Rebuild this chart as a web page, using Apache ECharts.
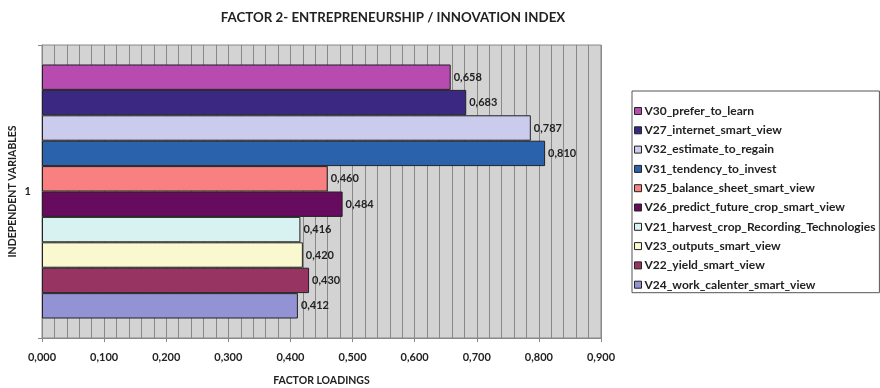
<!DOCTYPE html>
<html>
<head>
<meta charset="utf-8">
<script src="https://cdn.jsdelivr.net/npm/echarts@6/dist/echarts.min.js"></script>
<style>html,body{margin:0;padding:0;background:#fff}#c{width:880px;height:388px}</style>
</head>
<body>
<div id="c"></div>
<script>
const categories = ['1'];
const seriesNames = ['V30_prefer_to_learn','V27_internet_smart_view','V32_estimate_to_regain','V31_tendency_to_invest','V25_balance_sheet_smart_view','V26_predict_future_crop_smart_view','V21_harvest_crop_Recording_Technologies','V23_outputs_smart_view','V22_yield_smart_view','V24_work_calenter_smart_view'];
const seriesValues = [0.658, 0.683, 0.787, 0.810, 0.460, 0.484, 0.416, 0.420, 0.430, 0.412];
const seriesColors = ['#b84bb0','#3a2883','#cbcbee','#2a62ab','#f88080','#670b5f','#d8f2f2','#f9f8cf','#973461','#9292d4'];

const FONT = 'Lato';
const fmt = v => v.toFixed(3).replace('.', ',');

const chart = echarts.init(document.getElementById('c'));
const series = seriesNames.map((n, i) => ({
  name: n,
  type: 'bar',
  data: [seriesValues[i]],
  barGap: '0%',
  barCategoryGap: '13.3%',
  itemStyle: { color: seriesColors[i], borderColor: '#222', borderWidth: 1 },
  label: { show: true, position: 'right', distance: 3, formatter: p => fmt(p.value), fontFamily: FONT, fontWeight: 'bold', fontSize: 11, color: '#222' }
}));

chart.setOption({
  animation: false,
  textStyle: { fontFamily: FONT },
  title: {
    text: 'FACTOR 2- ENTREPRENEURSHIP / INNOVATION INDEX',
    left: 388, top: 6, textAlign: 'center',
    textStyle: { fontFamily: FONT, fontWeight: 'bold', fontSize: 13.3, color: '#222' }
  },
  legend: {
    orient: 'vertical', left: 632, top: 91,
    data: seriesNames,
    padding: [14, 4, 2, 2],
    itemWidth: 7, itemHeight: 7, itemGap: 7.3,
    icon: 'rect',
    itemStyle: { borderColor: '#222', borderWidth: 1 },
    borderColor: '#555', borderWidth: 1,
    textStyle: { fontFamily: FONT, fontWeight: 'bold', fontSize: 12, lineHeight: 12, color: '#222', padding: [0,0,0,-2] }
  },
  grid: { left: 42, right: 279, top: 45, bottom: 50, outerBoundsMode: 'none', containLabel: false, show: true, backgroundColor: '#d3d3d3', borderColor: '#888', borderWidth: 1 },
  xAxis: {
    type: 'value', min: 0, max: 0.9, interval: 0.1,
    name: 'FACTOR LOADINGS', nameLocation: 'middle', nameGap: 37, nameMoveOverlap: false,
    nameTextStyle: { fontFamily: FONT, fontWeight: 'bold', fontSize: 10.5, color: '#222' },
    axisLine: { show: true, lineStyle: { color: '#888' } },
    axisTick: { show: true, length: 4, lineStyle: { color: '#888' } },
    axisLabel: { formatter: v => fmt(v), fontFamily: FONT, fontWeight: 'bold', fontSize: 11, color: '#222', margin: 14 },
    splitLine: { show: true, lineStyle: { color: '#888' } },
    minorTick: { show: false, splitNumber: 5 },
    minorSplitLine: { show: true, lineStyle: { color: '#888' } }
  },
  yAxis: {
    type: 'category', data: categories, inverse: true,
    name: 'INDEPENDENT VARIABLES', nameLocation: 'middle', nameGap: 24, nameRotate: 90, nameMoveOverlap: false,
    nameTextStyle: { fontFamily: FONT, fontWeight: 'bold', fontSize: 10.5, color: '#222' },
    axisLine: { show: true, lineStyle: { color: '#888' } },
    axisTick: { show: true, length: 4, lineStyle: { color: '#888' } },
    axisLabel: { fontFamily: FONT, fontWeight: 'bold', fontSize: 11, color: '#222', margin: 11 }
  },
  series: series
});
</script>
</body>
</html>
